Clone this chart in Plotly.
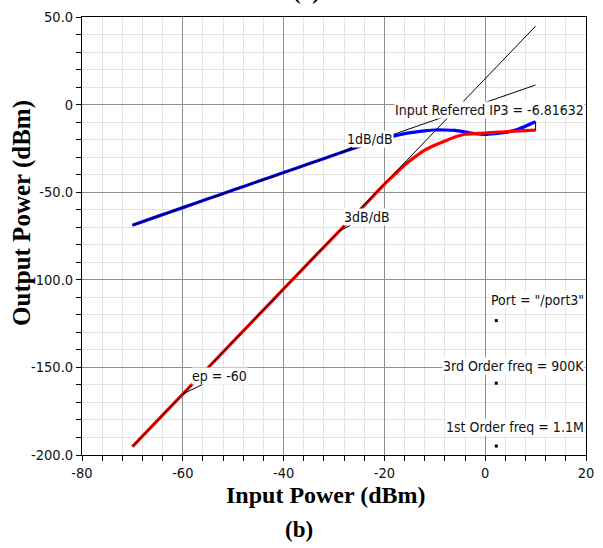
import plotly.graph_objects as go
import numpy as np

# ---- data ----
pin = [-70, -65, -60, -55, -50, -45, -40, -35, -30, -25, -22, -20, -18, -16, -14,
       -12, -10, -8, -6, -4, -2, 0, 2, 4, 6, 8, 10]
first_order = [-68.8, -63.8, -58.8, -53.8, -48.8, -43.8, -38.8, -33.8, -28.8, -23.9,
               -21.0, -19.3, -17.9, -16.6, -15.7, -15.0, -14.5, -14.5, -14.7, -15.6,
               -16.6, -17.0, -16.6, -15.9, -14.5, -12.3, -9.8]
third_order = [-195.2, -180.2, -165.2, -150.2, -135.2, -120.2, -105.2, -90.2, -75.3,
               -60.6, -51.5, -45.5, -40.0, -34.5, -30.0, -26.0, -23.2, -20.8, -18.5,
               -16.9, -16.6, -16.2, -15.8, -15.5, -15.1, -14.8, -14.6]
ext1_x = [-70, 10]
ext1_y = [-68.8, 11.2]
ext3_x = [-70, 10]
ext3_y = [-195.2, 44.8]
end_marker_x = [10, 10]
end_marker_y = [-9.8, -14.8]
marker_x = [2.2, 2.2, 2.2]
marker_y = [-123.3, -159.0, -194.9]

xtick_vals = [-80, -60, -40, -20, 0, 20]
xtick_text = ["-80", "-60", "-40", "-20", "0", "20"]
ytick_vals = [50, 0, -50, -100, -150, -200]
ytick_text = ["50.0", "0", "-50.0", "-100.0", "-150.0", "-200.0"]

W, H = 603, 548
L, R, T, B = 82, 594, 17, 455


def px(xp):
    return (xp - L) / (R - L)


def py(yp):
    return (B - yp) / (B - T)


fig = go.Figure()
fig.add_trace(go.Scatter(x=pin, y=first_order, mode="lines",
                         line=dict(color="#0000ff", width=3.2, shape="spline",
                                   smoothing=0.6), showlegend=False))
fig.add_trace(go.Scatter(x=pin, y=third_order, mode="lines",
                         line=dict(color="#ff0000", width=3.2, shape="spline",
                                   smoothing=0.6), showlegend=False))
fig.add_trace(go.Scatter(x=ext1_x, y=ext1_y, mode="lines",
                         line=dict(color="#000000", width=1), showlegend=False))
fig.add_trace(go.Scatter(x=ext3_x, y=ext3_y, mode="lines",
                         line=dict(color="#000000", width=1), showlegend=False))
fig.add_trace(go.Scatter(x=end_marker_x, y=end_marker_y, mode="lines",
                         line=dict(color="#000000", width=1), showlegend=False))
fig.add_trace(go.Scatter(x=marker_x, y=marker_y, mode="markers",
                         marker=dict(color="#000000", size=3, symbol="square"),
                         showlegend=False))

lab_font = dict(family="DejaVu Sans Condensed, DejaVu Sans", size=14, color="#111111")
ann = []
for text, x, y in [
    ("Input Referred IP3 = -6.81632", 19.8, -3.1),
    ('Port = "/port3"', 19.8, -111.6),
    ("3rd Order freq = 900K", 19.8, -149.2),
    ("1st Order freq = 1.1M", 19.8, -184.0),
]:
    ann.append(dict(x=x, y=y, xref="x", yref="y", text=text, showarrow=False,
                    xanchor="right", yanchor="middle", font=lab_font,
                    bgcolor="white", borderpad=0))

for text, x, y, ax, ay in [
    ("1dB/dB", -29.2, -28.0, 32, -15),
    ("3dB/dB", -29.0, -72.2, 28, -14),
    ("ep = -60", -60.0, -165.2, 37, -18),
]:
    ann.append(dict(x=x, y=y, xref="x", yref="y", text=text, showarrow=True,
                    arrowhead=0, arrowwidth=1, arrowcolor="#000000", ax=ax, ay=ay,
                    font=lab_font, bgcolor="white", borderpad=0))

serif = "Liberation Serif, Times New Roman, serif"
ann.append(dict(x=px(21), y=py(213), xref="paper", yref="paper",
                text="<b>Output Power (dBm)</b>", showarrow=False, textangle=-90,
                font=dict(family=serif, size=25, color="#000000"),
                xanchor="center", yanchor="middle"))
ann.append(dict(x=px(330), y=py(495), xref="paper", yref="paper",
                text="<b>Input Power (dBm)</b>", showarrow=False,
                font=dict(family=serif, size=24, color="#000000"),
                xanchor="center", yanchor="middle"))
ann.append(dict(x=px(302), y=py(529), xref="paper", yref="paper",
                text="<b>(b)</b>", showarrow=False,
                font=dict(family=serif, size=23, color="#000000"),
                xanchor="center", yanchor="middle"))
ann.append(dict(x=px(310), y=py(-8), xref="paper", yref="paper",
                text="<b>(a)</b>", showarrow=False,
                font=dict(family=serif, size=23, color="#000000"),
                xanchor="center", yanchor="middle"))

tick_font = dict(family="DejaVu Sans Condensed, DejaVu Sans", size=14.5, color="#111111")

fig.update_layout(
    width=W, height=H,
    margin=dict(l=L, r=W - R, t=T, b=H - B),
    paper_bgcolor="white", plot_bgcolor="white",
    showlegend=False,
    annotations=ann,
    xaxis=dict(range=[-80, 20], tickmode="array", tickvals=xtick_vals,
               ticktext=xtick_text, showgrid=True, gridcolor="#8f8f8f", gridwidth=1,
               zeroline=False, showline=True, linecolor="#000000", linewidth=1,
               mirror=True, ticks="outside", ticklen=5, tickcolor="#000000",
               tickfont=tick_font,
               minor=dict(tickvals=list(np.arange(-80, 21, 4)), showgrid=True,
                          gridcolor="#e3e3e3", gridwidth=1, ticks="outside",
                          ticklen=5, tickcolor="#000000")),
    yaxis=dict(range=[-200, 50], tickmode="array", tickvals=ytick_vals,
               ticktext=ytick_text, showgrid=True, gridcolor="#8f8f8f", gridwidth=1,
               zeroline=False, showline=True, linecolor="#000000", linewidth=1,
               mirror=True, ticks="outside", ticklen=5, tickcolor="#000000",
               tickfont=tick_font,
               minor=dict(tickvals=list(np.arange(-200, 51, 10)), showgrid=True,
                          gridcolor="#e3e3e3", gridwidth=1, ticks="outside",
                          ticklen=5, tickcolor="#000000")),
)

fig.write_html("out.html")
